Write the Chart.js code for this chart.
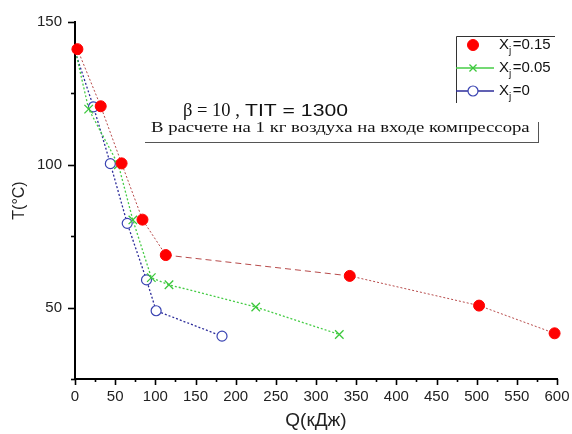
<!DOCTYPE html>
<html>
<head>
<meta charset="utf-8">
<script src="https://cdn.jsdelivr.net/npm/chart.js@4.4.1/dist/chart.umd.min.js"></script>
<style>
  html, body { margin: 0; padding: 0; background: #fff; }
  #wrap { width: 572px; height: 434px; }
</style>
</head>
<body>
<div id="wrap"><canvas id="c" width="572" height="434"></canvas></div>
<script>
// Heat released Q (kJ) versus temperature T (°C) for three values of Xj
const seriesValues = ['0.15', '0.05', '0'];

const qHigh = [3, 32, 58, 84, 113, 342, 503, 597];
const tHigh = [140.5, 120.5, 100.5, 80.8, 68.4, 61.1, 50.7, 41];

const qMid = [2, 17, 54, 72, 95, 117, 225, 329];
const tMid = [138, 119.5, 100, 80.7, 60.5, 58, 50.2, 40.6];

const qZero = [2, 23, 44, 65, 89, 101, 183];
const tZero = [138, 120.3, 100.4, 79.5, 59.7, 48.9, 40];

const xTicks = [0, 50, 100, 150, 200, 250, 300, 350, 400, 450, 500, 550, 600];
const yTicks = [50, 100, 150];

const headline = ['β = 10 ,', 'TIT = 1300'];
const subline = 'В расчете на 1 кг воздуха на входе компрессора';
const xTitle = 'Q(кДж)';
const yTitle = 'T(°C)';

const pts = (xs, ys) => xs.map((x, i) => ({ x: x, y: ys[i] }));

// short/long tick marks drawn from the scales' own tick positions
const tickMarks = {
  id: 'tickMarks',
  afterDraw(chart) {
    const ctx = chart.ctx;
    const xs = chart.scales.x, ys = chart.scales.y;
    ctx.save();
    ctx.strokeStyle = '#000';
    ctx.lineWidth = 1.6;
    xs.ticks.forEach(t => {
      const px = Math.round(xs.getPixelForValue(t.value)) + 0.5;
      const len = xTicks.includes(t.value) ? 6 : 3;
      ctx.beginPath();
      ctx.moveTo(px, xs.top);
      ctx.lineTo(px, xs.top + len);
      ctx.stroke();
    });
    ys.ticks.forEach(t => {
      const py = Math.round(ys.getPixelForValue(t.value)) + 0.5;
      const len = yTicks.includes(t.value) ? 7 : 4;
      ctx.beginPath();
      ctx.moveTo(ys.right, py);
      ctx.lineTo(ys.right - len, py);
      ctx.stroke();
    });
    ctx.restore();
  }
};

// text drawn with a horizontal stretch (the caption box is widened)
function wideText(ctx, text, x, y, font, sx) {
  ctx.save();
  ctx.font = font;
  ctx.translate(x, y);
  ctx.scale(sx, 1);
  ctx.fillText(text, 0, 0);
  ctx.restore();
}

// caption text and legend block
const overlay = {
  id: 'overlay',
  afterDraw(chart) {
    const ctx = chart.ctx;
    ctx.save();
    ctx.fillStyle = '#111';
    ctx.textBaseline = 'alphabetic';
    ctx.textAlign = 'left';

    wideText(ctx, headline[0], 183, 116, '18.5px "Liberation Serif", serif', 1.0);
    wideText(ctx, headline[1], 245, 116, '16.3px "Liberation Sans", Arial, sans-serif', 1.3);
    wideText(ctx, subline, 151, 132, '14.4px "Liberation Serif", serif', 1.3);

    ctx.strokeStyle = '#555';
    ctx.lineWidth = 1;
    ctx.beginPath();
    ctx.moveTo(145, 142.5);
    ctx.lineTo(539, 142.5);
    ctx.moveTo(538.5, 122);
    ctx.lineTo(538.5, 142);
    ctx.stroke();

    // legend frame
    ctx.strokeStyle = '#333';
    ctx.beginPath();
    ctx.moveTo(456.5, 103);
    ctx.lineTo(456.5, 36.5);
    ctx.lineTo(555, 36.5);
    ctx.stroke();

    const rows = [45, 68, 91];
    chart.data.datasets.forEach((ds, i) => {
      const y = rows[i];
      if (i > 0) {
        ctx.save();
        ctx.strokeStyle = ds.borderColor;
        ctx.lineWidth = 1.3;
        ctx.beginPath();
        ctx.moveTo(456, y);
        ctx.lineTo(494, y);
        ctx.stroke();
        ctx.restore();
      }
      ctx.save();
      ctx.fillStyle = ds.pointBackgroundColor;
      ctx.strokeStyle = ds.pointBorderColor;
      ctx.lineWidth = ds.pointBorderWidth;
      Chart.helpers.drawPoint(ctx, {
        pointStyle: ds.pointStyle,
        radius: i === 0 ? 5.5 : 5,
        borderWidth: ds.pointBorderWidth,
        rotation: 0
      }, 473, y);
      ctx.restore();

      ctx.fillStyle = '#111';
      ctx.textBaseline = 'middle';
      ctx.font = '15px "Liberation Sans", Arial, sans-serif';
      let x = 499;
      ctx.fillText('X', x, y);
      x += ctx.measureText('X').width;
      ctx.font = '10px "Liberation Sans", Arial, sans-serif';
      ctx.fillText('j', x, y + 6);
      x += ctx.measureText('j').width + 1.5;
      ctx.font = '15px "Liberation Sans", Arial, sans-serif';
      ctx.fillText('=' + seriesValues[i], x, y);
    });
    ctx.restore();
  }
};

new Chart(document.getElementById('c'), {
  type: 'scatter',
  data: {
    datasets: [
      {
        label: 'X=' + seriesValues[0],
        data: pts(qHigh, tHigh),
        showLine: true,
        borderColor: 'rgba(175,55,55,0.9)',
        borderWidth: 1,
        borderDash: [2, 2],
        segment: { borderDash: c => c.p0DataIndex === 4 ? [6, 4] : undefined },
        pointStyle: 'circle',
        pointRadius: 5.5,
        pointBackgroundColor: '#ff0000',
        pointBorderColor: '#ff0000',
        pointBorderWidth: 1,
        clip: false
      },
      {
        label: 'X=' + seriesValues[1],
        data: pts(qMid, tMid),
        showLine: true,
        borderColor: '#46cc46',
        borderWidth: 1.3,
        borderDash: [2, 2],
        pointStyle: 'crossRot',
        pointRadius: c => c.dataIndex === 0 ? 0 : 6,
        pointBackgroundColor: '#3cc83c',
        pointBorderColor: '#3cc83c',
        pointBorderWidth: 1.3,
        clip: false
      },
      {
        label: 'X=' + seriesValues[2],
        data: pts(qZero, tZero),
        showLine: true,
        borderColor: '#2c2c9a',
        borderWidth: 1.3,
        borderDash: [2, 2],
        pointStyle: 'circle',
        pointRadius: c => c.dataIndex === 0 ? 0 : 5,
        pointBackgroundColor: '#ffffff',
        pointBorderColor: '#3a44b2',
        pointBorderWidth: 1.2,
        clip: false
      }
    ]
  },
  options: {
    responsive: false,
    animation: false,
    devicePixelRatio: 1,
    events: [],
    layout: { padding: { top: 20, right: 15, left: 0, bottom: 0 } },
    plugins: { legend: { display: false }, tooltip: { enabled: false } },
    scales: {
      x: {
        type: 'linear',
        min: 0, max: 600,
        afterFit: s => { s.height = 55; s.paddingRight = 0; s.paddingLeft = 0; },
        grid: { display: false, drawTicks: false },
        border: { display: true, color: '#000', width: 2 },
        ticks: {
          stepSize: 25,
          autoSkip: false,
          maxRotation: 0,
          padding: 9,
          color: '#222',
          font: { family: '"Liberation Sans", Arial, sans-serif', size: 15 },
          callback: v => xTicks.includes(v) ? String(v) : ''
        },
        title: {
          display: true, text: xTitle, color: '#222',
          font: { family: '"Liberation Sans", Arial, sans-serif', size: 19 },
          padding: { top: 0, bottom: 2 }
        }
      },
      y: {
        type: 'linear',
        min: 25, max: 150,
        afterFit: s => { s.width = 75; },
        grid: { display: false, drawTicks: false },
        border: { display: true, color: '#000', width: 2 },
        ticks: {
          stepSize: 25,
          autoSkip: false,
          padding: 13,
          color: '#222',
          font: { family: '"Liberation Sans", Arial, sans-serif', size: 15 },
          callback: v => yTicks.includes(v) ? String(v) : ''
        },
        title: {
          display: true, text: yTitle, color: '#222',
          font: { family: '"Liberation Sans", Arial, sans-serif', size: 16 },
          padding: { top: 10, bottom: 4 }
        }
      }
    }
  },
  plugins: [tickMarks, overlay]
});
</script>
</body>
</html>
